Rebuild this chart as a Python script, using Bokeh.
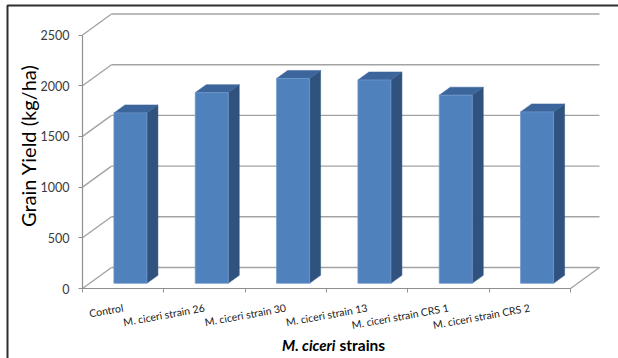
import numpy as np
from bokeh.plotting import figure
from bokeh.models import Range1d, LinearAxis, FixedTicker
from bokeh.core.properties import value
from bokeh.embed import file_html
from bokeh.resources import INLINE

# ---------------- data ----------------
categories = ["Control", "M. ciceri strain 26", "M. ciceri strain 30",
              "M. ciceri strain 13", "M. ciceri strain CRS 1", "M. ciceri strain CRS 2"]
yields = [1680, 1880, 2020, 2005, 1855, 1690]
y_ticks = [0, 500, 1000, 1500, 2000, 2500]
y_title = "Grain Yield (kg/ha)"
x_title_italic = "M. ciceri"
x_title_rest = "strains"

# ---------------- layout (pixels) ----------------
W, H = 618, 358
AX_LEFT, AX_RIGHT = 82, 570
AX_BOTTOM, AX_TOP = 288, 34.5
n = len(categories)
PX_X = (AX_RIGHT - AX_LEFT) / n
PX_Y = (AX_BOTTOM - AX_TOP) / y_ticks[-1]

DX = 29 / PX_X          # oblique depth offset (data units)
DY = 21 / PX_Y
F0 = 0.25               # depth where bars start
FD = 0.38               # bar depth
BW = 33 / PX_X          # bar width
SHIFT = F0 * DX

p = figure(width=W, height=H, output_backend="svg", toolbar_location=None,
           x_axis_type=None, y_axis_type=None,
           x_range=Range1d(-AX_LEFT / PX_X, (W - AX_LEFT) / PX_X),
           y_range=Range1d(-(H - AX_BOTTOM) / PX_Y, AX_BOTTOM / PX_Y),
           min_border=0)
p.outline_line_color = None
p.background_fill_color = "white"
p.border_fill_color = "white"

GRID = "#a3a3a3"
GW = 1.4

# back wall gridlines
p.multi_line(xs=[[DX, n + DX] for v in y_ticks],
             ys=[[v + DY, v + DY] for v in y_ticks],
             line_color=GRID, line_width=GW)
# side wall diagonals
p.multi_line(xs=[[0, DX] for v in y_ticks],
             ys=[[v, v + DY] for v in y_ticks],
             line_color=GRID, line_width=GW)
# floor right edge
p.line(x=[n, n + DX], y=[0, DY], line_color=GRID, line_width=GW)

# bars
centers = np.arange(n) + 0.5
L = centers + SHIFT - BW / 2
R = centers + SHIFT + BW / 2
b = F0 * DY
tops = np.array(yields, dtype=float) + b
ddx, ddy = FD * DX, FD * DY

side_xs = [[r, r + ddx, r + ddx, r] for r in R]
side_ys = [[b, b + ddy, t + ddy, t] for t in tops]
top_xs = [[l, r, r + ddx, l + ddx] for l, r in zip(L, R)]
top_ys = [[t, t, t + ddy, t + ddy] for t in tops]

p.patches(xs=side_xs, ys=side_ys, fill_color="#30527f", line_color="#30527f", line_width=0.5)
p.patches(xs=top_xs, ys=top_ys, fill_color="#3b659b", line_color="#3b659b", line_width=0.5)
p.quad(left=L, right=R, bottom=b, top=tops, fill_color="#4f81bd",
       line_color="#6e97cb", line_width=0.8)

# y axis
yaxis = LinearAxis(ticker=FixedTicker(ticks=y_ticks), fixed_location=0,
                   bounds=(y_ticks[0], y_ticks[-1]))
yaxis.axis_line_color = "#8f8f8f"
yaxis.axis_line_width = 1.2
yaxis.major_tick_line_color = "#8f8f8f"
yaxis.major_tick_out = 4
yaxis.major_tick_in = 0
yaxis.minor_tick_line_color = None
yaxis.major_label_standoff = 9
yaxis.major_label_text_font = "Lato"
yaxis.major_label_text_font_size = "12.5px"
yaxis.major_label_text_color = "#3a3a3a"
p.add_layout(yaxis, "left")

# x axis (tick marks at category boundaries)
xaxis = LinearAxis(ticker=FixedTicker(ticks=list(range(n + 1))), fixed_location=0,
                   bounds=(0, n), major_label_overrides={i: "" for i in range(n + 1)})
xaxis.axis_line_color = "#8f8f8f"
xaxis.axis_line_width = 1.2
xaxis.major_tick_line_color = "#8f8f8f"
xaxis.major_tick_out = 4
xaxis.major_tick_in = 0
xaxis.minor_tick_line_color = None
p.add_layout(xaxis, "below")

# x axis category labels
xlab = LinearAxis(ticker=FixedTicker(ticks=list(centers)), fixed_location=0,
                  major_label_overrides={float(c): t for c, t in zip(centers, categories)})
xlab.axis_line_color = None
xlab.major_tick_line_color = None
xlab.major_tick_out = 0
xlab.major_tick_in = 0
xlab.minor_tick_line_color = None
xlab.major_label_orientation = 0.18
xlab.major_label_standoff = 19
xlab.major_label_text_font = "Lato"
xlab.major_label_text_font_size = "10.5px"
xlab.major_label_text_color = "#1a1a1a"
p.add_layout(xlab, "below")

# axis titles
p.text(x=[0], y=[y_ticks[-1] / 2], text=[y_title], angle=np.pi / 2,
       x_offset=-55, y_offset=-16, text_align="center", text_baseline="middle",
       text_font=value("Lato"), text_font_size="20px", text_color="#000000")
p.text(x=[n / 2], y=[0], text=[x_title_italic], x_offset=9, y_offset=56,
       text_align="right", text_baseline="alphabetic",
       text_font=value("Lato"), text_font_style="bold italic",
       text_font_size="15px", text_color="#000000")
p.text(x=[n / 2], y=[0], text=[x_title_rest], x_offset=13, y_offset=56,
       text_align="left", text_baseline="alphabetic",
       text_font=value("Lato"), text_font_style="bold",
       text_font_size="15.5px", text_color="#000000")

# chart area border (top and left edges)
def xd(px):
    return (px - AX_LEFT) / PX_X

def yd(py):
    return (AX_BOTTOM - py) / PX_Y

p.line(x=[xd(W + 5), xd(7), xd(7)], y=[yd(5), yd(5), yd(H + 5)],
       line_color="#2e2e2e", line_width=2)

open("out.html", "w").write(file_html(p, INLINE))
